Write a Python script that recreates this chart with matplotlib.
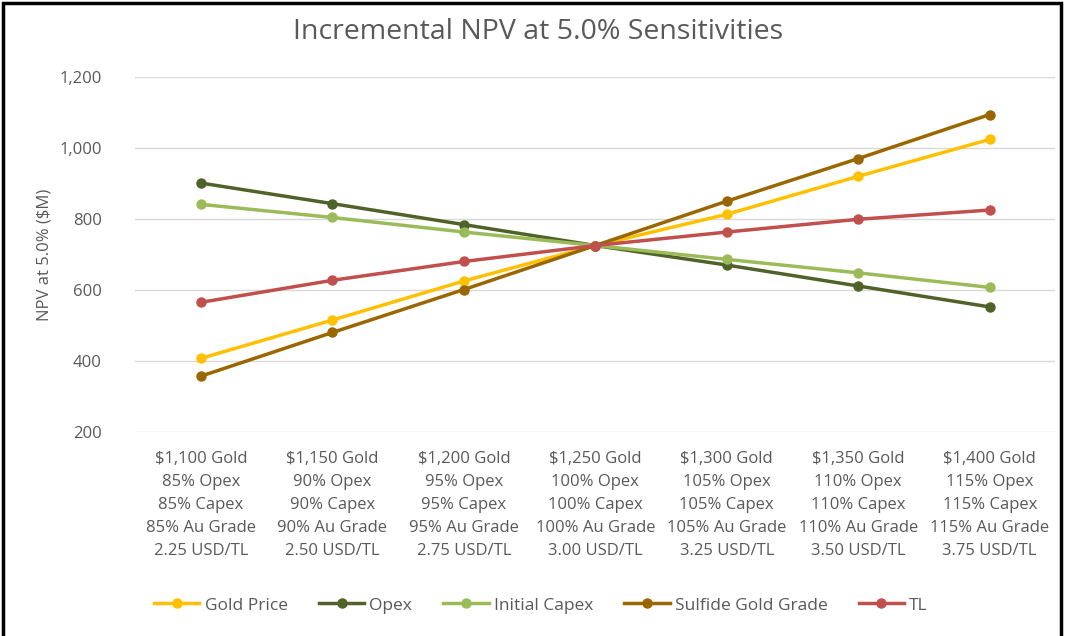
import matplotlib
matplotlib.use('Agg')
import matplotlib.pyplot as plt
from matplotlib.patches import Rectangle

# ---- data ----
categories = [
    "$1,100 Gold\n85% Opex\n85% Capex\n85% Au Grade\n2.25 USD/TL",
    "$1,150 Gold\n90% Opex\n90% Capex\n90% Au Grade\n2.50 USD/TL",
    "$1,200 Gold\n95% Opex\n95% Capex\n95% Au Grade\n2.75 USD/TL",
    "$1,250 Gold\n100% Opex\n100% Capex\n100% Au Grade\n3.00 USD/TL",
    "$1,300 Gold\n105% Opex\n105% Capex\n105% Au Grade\n3.25 USD/TL",
    "$1,350 Gold\n110% Opex\n110% Capex\n110% Au Grade\n3.50 USD/TL",
    "$1,400 Gold\n115% Opex\n115% Capex\n115% Au Grade\n3.75 USD/TL",
]
gold_price = [407, 515, 625, 725, 813, 920, 1024]
opex = [901, 843, 784, 725, 670, 611, 552]
initial_capex = [841, 804, 763, 725, 686, 648, 607]
sulfide_grade = [357, 480, 601, 725, 850, 970, 1094]
tl = [565, 627, 680, 725, 763, 799, 825]

series = [
    ("Gold Price", gold_price, "#FFC000"),
    ("Opex", opex, "#4F6228"),
    ("Initial Capex", initial_capex, "#9BBB59"),
    ("Sulfide Gold Grade", sulfide_grade, "#996600"),
    ("TL", tl, "#C0504D"),
]

plt.rcParams['font.family'] = ['Open Sans', 'DejaVu Sans']
grey = '#595959'

fig = plt.figure(figsize=(10.65, 6.36), dpi=100)
ax = fig.add_axes([0.127, 0.321, 0.864, 0.558])

x = list(range(len(categories)))
for name, vals, col in series:
    ax.plot(x, vals, color=col, lw=2.5, marker='o', markersize=6.5, label=name)

ax.set_xlim(-0.5, len(categories) - 0.5)
ax.set_ylim(200, 1200)
ax.set_yticks(range(200, 1201, 200))
ax.set_yticklabels([f"{v:,}" for v in range(200, 1201, 200)])
ax.set_xticks(x)
ax.set_xticklabels(categories, linespacing=1.58)
ax.tick_params(axis='both', length=0, colors=grey, labelsize=12)
ax.tick_params(axis='x', pad=14)
ax.tick_params(axis='y', pad=24)
ax.grid(axis='y', color='#D9D9D9', lw=1)
ax.set_axisbelow(True)
for s in ax.spines.values():
    s.set_visible(False)

ax.set_ylabel("NPV at 5.0% ($M)", color=grey, fontsize=12, labelpad=5)
fig.text(0.505, 0.950, "Incremental NPV at 5.0% Sensitivities", ha='center', va='center',
         color=grey, fontsize=20.5)

ax.legend(loc='center', bbox_to_anchor=(0.508, 0.048), bbox_transform=fig.transFigure,
          ncol=5, frameon=False, fontsize=12.5, labelcolor=grey, handlelength=2.6,
          columnspacing=1.8, handletextpad=0.3)

fig.patches.append(Rectangle((0.003, -0.01), 0.993, 1.005, transform=fig.transFigure,
                             fill=False, edgecolor='black', lw=2.5))

fig.savefig('out.png', dpi=100)
